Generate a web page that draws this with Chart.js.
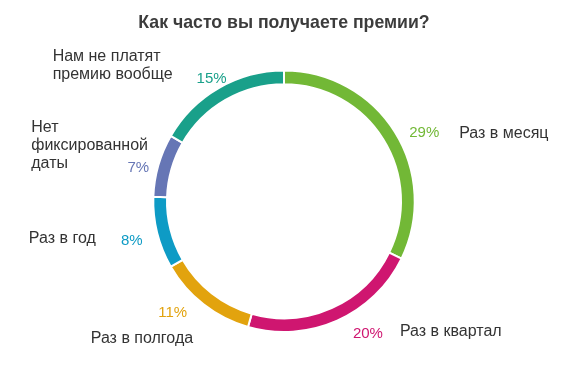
<!DOCTYPE html>
<html><head><meta charset="utf-8">
<script src="https://cdn.jsdelivr.net/npm/chart.js@4.4.0/dist/chart.umd.min.js"></script>
<style>html,body{margin:0;padding:0;background:#fff}#wrap{width:576px;height:366px}</style>
</head><body><div id="wrap"><canvas id="c" width="576" height="366"></canvas></div>
<script>
// ---- data ----
const categories = [["Раз в месяц"], ["Раз в квартал"], ["Раз в полгода"], ["Раз в год"], ["Нет", "фиксированной", "даты"], ["Нам не платят", "премию вообще"]];
const values = [29, 20, 11, 8, 7, 15];
const percentLabels = ["29%", "20%", "11%", "8%", "7%", "15%"];
const colors = ["#72b836", "#cf1670", "#e2a30e", "#0e9bc5", "#6676b5", "#19a08a"];

// ---- label layout (style only) ----
const pctGap = 24;
const pctNudge = [[9, 14], [21, -9], [-16, -10], [-2, 2], [3, 9], [5, 12]];
const catLayout = [
  {dx: 35, dy: 0}, {dx: 32, dy: -2}, {dx: -82, dy: 25},
  {dx: -103, dy: -2}, {dx: -107, dy: -40}, {dx: -159, dy: -23}
];
const FONT = "'Liberation Sans', Arial, sans-serif";

const labelPlugin = {
  id: 'sliceLabels',
  afterDatasetsDraw(chart) {
    const ctx = chart.ctx;
    const meta = chart.getDatasetMeta(0);
    meta.data.forEach((arc, i) => {
      const p = arc.getProps(['x', 'y', 'startAngle', 'endAngle', 'outerRadius'], true);
      const mid = (p.startAngle + p.endAngle) / 2;
      const r = p.outerRadius + pctGap;
      const px = p.x + Math.cos(mid) * r + pctNudge[i][0];
      const py = p.y + Math.sin(mid) * r + pctNudge[i][1];
      ctx.save();
      ctx.textBaseline = 'middle';
      ctx.textAlign = 'center';
      ctx.font = '15px ' + FONT;
      ctx.fillStyle = colors[i];
      ctx.fillText(percentLabels[i], px, py);
      ctx.textAlign = 'left';
      ctx.font = '16px ' + FONT;
      ctx.fillStyle = '#333333';
      categories[i].forEach((line, k) => {
        ctx.fillText(line, px + catLayout[i].dx, py + catLayout[i].dy + k * 18);
      });
      ctx.restore();
    });
  }
};

const bgPlugin = {
  id: 'bg',
  beforeDraw(chart) {
    const c = chart.ctx;
    c.save(); c.fillStyle = '#ffffff'; c.fillRect(0, 0, chart.width, chart.height); c.restore();
  }
};

new Chart(document.getElementById('c'), {
  type: 'doughnut',
  data: {
    labels: categories.map(l => l.join(' ')),
    datasets: [{
      data: values,
      backgroundColor: colors,
      borderColor: '#ffffff',
      borderWidth: 2,
      hoverOffset: 0
    }]
  },
  options: {
    responsive: false,
    devicePixelRatio: 1,
    animation: false,
    cutout: '89.5%',
    layout: {padding: {left: 0, right: 8, top: 0, bottom: 33}},
    plugins: {
      legend: {display: false},
      tooltip: {enabled: false},
      title: {
        display: true,
        text: 'Как часто вы получаете премии?',
        color: '#3c3c3c',
        font: {family: FONT, size: 17.7, weight: 'bold'},
        padding: {top: 12, bottom: 36.3}
      }
    }
  },
  plugins: [bgPlugin, labelPlugin]
});
</script>
</body></html>
